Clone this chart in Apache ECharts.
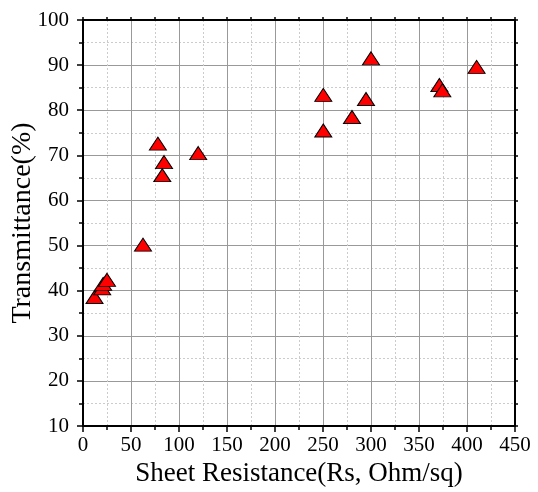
<!DOCTYPE html>
<html>
<head>
<meta charset="utf-8">
<script src="https://cdn.jsdelivr.net/npm/echarts@6/dist/echarts.min.js"></script>
<style>html,body{margin:0;padding:0;background:#fff}#c{width:538px;height:492px}</style>
</head>
<body>
<div id="c"></div>
<script>
var sheetResistance = [12, 20, 21, 25, 62.5, 78, 84.4, 82.6, 120, 250.3, 250.3, 280.2, 294.8, 300, 371.2, 374.3, 410];
var transmittance   = [38.6, 40.5, 41.5, 42.4, 50.2, 72.6, 68.5, 65.6, 70.5, 83.4, 75.5, 78.5, 82.5, 91.5, 85.6, 84.4, 89.6];
var xTitle = 'Sheet Resistance(Rs, Ohm/sq)';
var yTitle = 'Transmittance(%)';

var pts = sheetResistance.map(function (x, i) { return [x, transmittance[i]]; });
var font = '"Liberation Serif", "Times New Roman", serif';
var chart = echarts.init(document.getElementById('c'));

function baseAxis(extra) {
  var a = {
    type: 'value',
    axisLine: { show: true, onZero: false, lineStyle: { color: '#000', width: 2 } },
    axisTick: { show: true, length: 6, inside: false, lineStyle: { color: '#000', width: 1.5 } },
    minorTick: { show: true, splitNumber: 2, length: 4, lineStyle: { color: '#000', width: 1.5 } },
    axisLabel: { show: true, color: '#000', fontFamily: font, fontSize: 21 },
    splitLine: { show: false },
    minorSplitLine: { show: false }
  };
  for (var k in extra) a[k] = extra[k];
  return a;
}

chart.setOption({
  animation: false,
  backgroundColor: '#fff',
  textStyle: { fontFamily: font },
  grid: { left: 83, right: 23, top: 20, bottom: 66, containLabel: false, outerBoundsMode: 'none' },
  xAxis: [
    baseAxis({
      min: 0, max: 450, interval: 50, position: 'bottom',
      name: xTitle, nameLocation: 'middle', nameGap: 34, nameMoveOverlap: false,
      nameTextStyle: { color: '#000', fontFamily: font, fontSize: 27 },
      axisLabel: { color: '#000', fontFamily: font, fontSize: 21, margin: 9 },
      splitLine: { show: true, lineStyle: { color: '#999', width: 1 } },
      minorSplitLine: { show: true, lineStyle: { color: '#ccc', width: 1, type: [2, 2] } }
    }),
    baseAxis({
      min: 0, max: 450, interval: 50, position: 'top',
      axisLabel: { show: false },
      axisTick: { show: true, length: 3, inside: false, lineStyle: { color: '#000', width: 1.5 } },
      minorTick: { show: true, splitNumber: 2, length: 3, lineStyle: { color: '#000', width: 1.5 } }
    })
  ],
  yAxis: [
    baseAxis({
      min: 10, max: 100, interval: 10, position: 'left',
      name: yTitle, nameLocation: 'middle', nameGap: 46, nameRotate: 90, nameMoveOverlap: false,
      nameTextStyle: { color: '#000', fontFamily: font, fontSize: 28 },
      axisLabel: { color: '#000', fontFamily: font, fontSize: 21, margin: 14 },
      splitLine: { show: true, lineStyle: { color: '#999', width: 1 } },
      minorSplitLine: { show: true, lineStyle: { color: '#ccc', width: 1, type: [2, 2] } }
    }),
    baseAxis({
      min: 10, max: 100, interval: 10, position: 'right',
      axisLabel: { show: false },
      axisTick: { show: true, length: 3, inside: false, lineStyle: { color: '#000', width: 1.5 } },
      minorTick: { show: true, splitNumber: 2, length: 3, lineStyle: { color: '#000', width: 1.5 } }
    })
  ],
  series: [{
    type: 'scatter',
    xAxisIndex: 0, yAxisIndex: 0,
    data: pts,
    symbol: 'triangle',
    symbolSize: [17, 13],
    itemStyle: { color: '#ff0000', borderColor: '#000', borderWidth: 1, opacity: 1 },
    emphasis: { disabled: true }
  }]
});
</script>
</body>
</html>
